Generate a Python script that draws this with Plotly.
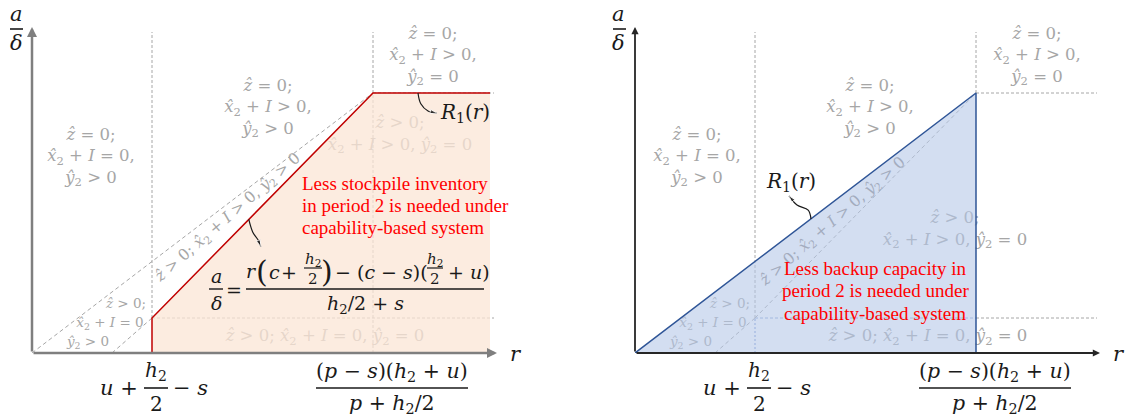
import plotly.graph_objects as go

W, H = 1125, 420

# ---- schematic values: r on the horizontal axis, a/delta on the vertical ----
r_axis_end = 11.625
a_axis_end = 8.15
guide_top = 8.025
guide_end = 11.55
r_low = 3.0          # u + h2/2 - s
r_high = 8.525       # (p - s)(h2 + u) / (p + h2/2)
r_fill_end = 11.45
r_band_foot = 2.0
a_low = 0.875
a_high = 6.5

# R1(r) under the capability-based system (left panel)
left_curve_r = [r_low, r_low, r_high, r_fill_end]
left_curve_a = [0.0, a_low, a_high, a_high]
left_region_r = [r_low, r_low, r_high, r_fill_end, r_fill_end, r_low]
left_region_a = [0.0, a_low, a_high, a_high, 0.0, 0.0]

# R1(r) in the backup-capacity case (right panel)
right_region_r = [0.0, r_high, r_high, 0.0]
right_region_a = [0.0, a_high, 0.0, 0.0]

# region boundaries
upper_boundary_r = [0.0, r_high]
upper_boundary_a = [0.0, a_high]
lower_boundary_r = [r_band_foot, r_low, r_high]
lower_boundary_a = [0.0, a_low, a_high]

# curved pointers
ptr_left_r1_r = [9.65, 9.72, 9.9, 10.12]
ptr_left_r1_a = [6.5, 6.23, 6.05, 6.0]
ptr_formula_r = [5.42, 5.52, 5.65, 5.72]
ptr_formula_a = [3.34, 3.02, 2.83, 2.66]
ptr_right_r1_r = [4.4, 4.33, 4.05, 3.85]
ptr_right_r1_a = [3.35, 3.57, 3.7, 3.93]

# ---- page geometry ----
AX_X0 = [32, 635]      # pixel column of r = 0 in each panel
AX_LEN = 465           # pixel length of the r axis
AX_Y0 = 353            # pixel row of a/delta = 0
AX_HT = 326            # pixel height of the a/delta axis

INK = '#1a1a1a'
GRAY = '#A6A6A6'
GUIDE = '#A6A6A6'
MATH = 'DejaVu Serif'
PROSE = 'Liberation Serif'


def px(x):
    return x / W


def py(y):
    return 1 - y / H


def r_to_px(panel, r):
    return AX_X0[panel] + r / r_axis_end * AX_LEN


annotations = []
shapes = []


def txt(xp, yp, text, size=19, color=INK, xanchor='center', family=MATH):
    annotations.append(dict(x=px(xp), y=py(yp), xref='paper', yref='paper',
                            text=text, showarrow=False, xanchor=xanchor,
                            yanchor='middle',
                            font=dict(family=family, size=size, color=color)))


def hbar(x0, x1, y, width=1.4):
    shapes.append(dict(type='line', xref='paper', yref='paper',
                       x0=px(x0), x1=px(x1), y0=py(y), y1=py(y),
                       line=dict(color=INK, width=width)))


def guide(xa, ya, x0, y0, x1, y1, color=GUIDE, dash='3px,2px'):
    shapes.append(dict(type='line', xref=xa, yref=ya, x0=x0, y0=y0,
                       x1=x1, y1=y1, layer='below',
                       line=dict(color=color, width=1, dash=dash)))


# ---- label text ----
def zt(op):
    return f"<i>ẑ</i> {op} 0;"


def xt(op, tail=""):
    return f"<i>x\u0302</i><sub>2</sub> + <i>I</i> {op} 0{tail}"


def yt(op):
    return f"<i>ŷ</i><sub>2</sub> {op} 0"


LBL_A = zt('=') + '<br>' + xt('=', ',') + '<br>' + yt('>')
LBL_B = zt('=') + '<br>' + xt('>', ',') + '<br>' + yt('>')
LBL_C = zt('=') + '<br>' + xt('>', ',') + '<br>' + yt('=')
LBL_D = zt('>') + '<br>' + xt('>', ',') + ' ' + yt('=')
LBL_E = zt('>') + ' ' + xt('=', ',') + ' ' + yt('=')
LBL_G = zt('>') + ' ' + xt('>', ',') + ' ' + yt('>')

region_text = [LBL_A, LBL_B, LBL_C, LBL_D, LBL_E, zt('>'), xt('='), yt('>')]
region_size = [16.5, 16.5, 16.5, 16.5, 16.5, 13.5, 13.5, 13.5]
left_text_pos = [(1.475, 4.9), (5.9, 6.125), (10.025, 7.425), (9.2, 5.45),
                 (7.325, 0.4), (2.35, 1.2), (1.95, 0.725), (1.4, 0.25)]
right_text_pos = [(1.55, 4.9), (5.875, 6.125), (10.05, 7.425), (8.0, 3.075),
                  (7.325, 0.4), (2.375, 1.2), (1.95, 0.725), (1.4, 0.25)]

fig = go.Figure()

panels = [('x', 'y', left_text_pos), ('x2', 'y2', right_text_pos)]
for xa, ya, pos in panels:
    fig.add_trace(go.Scatter(
        x=[p[0] for p in pos], y=[p[1] for p in pos], mode='text',
        text=region_text, textposition='middle center',
        textfont=dict(family=MATH, size=region_size, color=GRAY),
        xaxis=xa, yaxis=ya, hoverinfo='skip', showlegend=False,
        cliponaxis=False))

# left panel: stockpile region
fig.add_trace(go.Scatter(
    x=left_region_r, y=left_region_a, fill='toself', mode='none',
    fillcolor='rgba(251,229,214,0.75)', xaxis='x', yaxis='y',
    hoverinfo='skip', showlegend=False))
fig.add_trace(go.Scatter(
    x=left_curve_r, y=left_curve_a, mode='lines',
    line=dict(color='#C00000', width=1.5), xaxis='x', yaxis='y',
    hoverinfo='skip', showlegend=False, cliponaxis=False))

# right panel: backup-capacity region
fig.add_trace(go.Scatter(
    x=right_region_r, y=right_region_a, fill='toself', mode='lines',
    fillcolor='rgba(180,199,231,0.58)',
    line=dict(color='#2F5597', width=1.5), xaxis='x2', yaxis='y2',
    hoverinfo='skip', showlegend=False, cliponaxis=False))

# curved pointers
for xs, ys, xa, ya in [(ptr_left_r1_r, ptr_left_r1_a, 'x', 'y'),
                       (ptr_formula_r, ptr_formula_a, 'x', 'y'),
                       (ptr_right_r1_r, ptr_right_r1_a, 'x2', 'y2')]:
    fig.add_trace(go.Scatter(
        x=xs, y=ys, mode='lines+markers',
        line=dict(color=INK, width=1.2, shape='spline', smoothing=1),
        marker=dict(symbol='arrow', angleref='previous',
                    size=[0] * (len(xs) - 1) + [7], color=INK),
        xaxis=xa, yaxis=ya, hoverinfo='skip', showlegend=False,
        cliponaxis=False))

# ---- guides ----
# left panel
guide('x', 'y', r_low, a_low, r_low, guide_top)
guide('x', 'y', r_high, 0, r_high, guide_top)
guide('x', 'y', r_low, a_low, guide_end, a_low)
guide('x', 'y', r_high, a_high, guide_end, a_high)
guide('x', 'y', upper_boundary_r[0], upper_boundary_a[0],
      upper_boundary_r[1], upper_boundary_a[1], dash='4px,3px')
guide('x', 'y', lower_boundary_r[0], lower_boundary_a[0],
      lower_boundary_r[1], lower_boundary_a[1], dash='4px,3px')
# right panel
guide('x2', 'y2', r_low, a_low, r_low, guide_top)
guide('x2', 'y2', r_low, 0, r_low, a_low, color='#6F8FCF', dash='2px,2px')
guide('x2', 'y2', r_low, a_low, r_high, a_low, color='#8FA6D6', dash='3px,2px')
guide('x2', 'y2', r_high, a_low, guide_end, a_low)
guide('x2', 'y2', r_high, a_high, r_high, guide_top)
guide('x2', 'y2', r_high, a_high, guide_end, a_high)
for i in range(len(lower_boundary_r) - 1):
    guide('x2', 'y2', lower_boundary_r[i], lower_boundary_a[i],
          lower_boundary_r[i + 1], lower_boundary_a[i + 1], dash='4px,3px')

# ---- axes with arrowheads ----
for (xa, ya), col, wd in [(('x', 'y'), '#7F7F7F', 2.5), (('x2', 'y2'), '#262626', 1.8)]:
    for tip in [(r_axis_end, 0), (0, a_axis_end)]:
        annotations.append(dict(x=tip[0], y=tip[1], ax=0, ay=0, xref=xa, yref=ya,
                                axref=xa, ayref=ya, text='', showarrow=True,
                                arrowhead=2, arrowsize=0.8, arrowwidth=wd,
                                arrowcolor=col, standoff=0, startstandoff=0))

# ---- rotated band labels ----
for xa, ya, x, y, col in [('x', 'y', 4.9, 3.375, GRAY), ('x2', 'y2', 4.95, 3.275, '#A3ACBE')]:
    annotations.append(dict(x=x, y=y, xref=xa, yref=ya, text=LBL_G, showarrow=False,
                            textangle=-41, font=dict(family=MATH, size=15.5, color=col)))

# ---- R1(r) tags ----
R1 = "<i>R</i><sub>1</sub>(<i>r</i>)"
annotations.append(dict(x=10.825, y=6.0, xref='x', yref='y', text=R1, showarrow=False,
                        font=dict(family=MATH, size=20, color=INK)))
annotations.append(dict(x=3.9, y=4.275, xref='x2', yref='y2', text=R1, showarrow=False,
                        font=dict(family=MATH, size=20, color=INK)))

# ---- red statements (one annotation per line for tighter leading) ----
stock_lines = ["Less stockpile inventory", "in period 2 is needed under",
               "capability-based system"]
backup_lines = ["Less backup capacity in", "period 2 is needed under",
                "capability-based system"]
for i, line in enumerate(stock_lines):
    txt(300, 183 + 22.5 * i, line, size=19, color='#FF0000', xanchor='left', family=PROSE)
for i, line in enumerate(backup_lines):
    txt(875, 268 + 22.5 * i, line, size=19, color='#FF0000', family=PROSE)

# ---- axis titles and threshold labels ----
for p in range(2):
    x0 = AX_X0[p]
    txt(x0 - 16, 14, "<i>a</i>", size=21)
    hbar(x0 - 22, x0 - 9, 29, width=1.6)
    txt(x0 - 16, 43, "<i>δ</i>", size=21)
    txt(x0 + AX_LEN + 19, AX_Y0 + 1, "<i>r</i>", size=21)

    # threshold u + h2/2 - s
    c = r_to_px(p, r_low)
    txt(c - 12, 388, "<i>u</i> +", size=21, xanchor='right')
    txt(c + 4, 371, "<i>h</i><sub>2</sub>", size=20)
    hbar(c - 8, c + 16, 388, width=1.6)
    txt(c + 4, 404, "2", size=20)
    txt(c + 19, 388, "− <i>s</i>", size=21, xanchor='left')

    # threshold (p - s)(h2 + u)/(p + h2/2)
    c = r_to_px(p, r_high)
    txt(c + 19, 372, "(<i>p</i> − <i>s</i>)(<i>h</i><sub>2</sub> + <i>u</i>)", size=20.5)
    hbar(c - 57, c + 95, 388, width=1.6)
    txt(c + 19, 404, "<i>p</i> + <i>h</i><sub>2</sub>/2", size=20.5)

# ---- formula for the ramp of R1(r) ----
txt(216, 276, "<i>a</i>", size=19)
hbar(209, 223, 289)
txt(216, 303, "<i>δ</i>", size=19)
txt(234, 290, "=", size=19)
hbar(246, 484, 289)
txt(251, 271, "<i>r</i>", size=19)
txt(262, 271, "(", size=30)
txt(274, 272, "<i>c</i>", size=19)
txt(289, 272, "+", size=19)
txt(313, 259, "<i>h</i><sub>2</sub>", size=15)
hbar(304, 322, 268, width=1.2)
txt(313, 279, "2", size=15)
txt(327, 271, ")", size=30)
txt(333, 272, "− (<i>c</i> − <i>s</i>)(", size=19, xanchor='left')
txt(435, 259, "<i>h</i><sub>2</sub>", size=15)
hbar(427, 443, 268, width=1.2)
txt(435, 279, "2", size=15)
txt(446, 272, "+ <i>u</i>)", size=19, xanchor='left')
txt(365, 304, "<i>h</i><sub>2</sub>/2 + <i>s</i>", size=19)

axis_common = dict(visible=False, fixedrange=True)
fig.update_layout(
    width=W, height=H, autosize=False,
    margin=dict(l=0, r=0, t=0, b=0),
    paper_bgcolor='white', plot_bgcolor='rgba(0,0,0,0)',
    showlegend=False,
    xaxis=dict(domain=[px(AX_X0[0]), px(AX_X0[0] + AX_LEN)], range=[0, r_axis_end],
               anchor='y', **axis_common),
    yaxis=dict(domain=[py(AX_Y0), py(AX_Y0 - AX_HT)], range=[0, a_axis_end],
               anchor='x', **axis_common),
    xaxis2=dict(domain=[px(AX_X0[1]), px(AX_X0[1] + AX_LEN)], range=[0, r_axis_end],
                anchor='y2', **axis_common),
    yaxis2=dict(domain=[py(AX_Y0), py(AX_Y0 - AX_HT)], range=[0, a_axis_end],
                anchor='x2', **axis_common),
    annotations=annotations,
    shapes=shapes,
)

fig.write_html("out.html")
